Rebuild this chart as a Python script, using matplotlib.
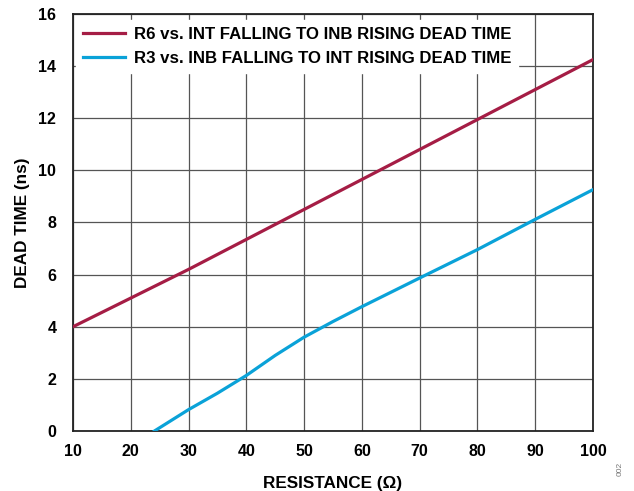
import numpy as np
import matplotlib.pyplot as plt

# Data
r6_res = [10, 20, 30, 40, 50, 60, 70, 80, 90, 100]
r6_dead = [4.0, 5.1, 6.2, 7.35, 8.5, 9.65, 10.8, 11.95, 13.1, 14.25]

r3_res = [24.1, 30, 35, 40, 45, 50, 55, 60, 70, 80, 90, 100]
r3_dead = [0.0, 0.82, 1.45, 2.13, 2.9, 3.6, 4.2, 4.77, 5.87, 6.96, 8.12, 9.26]

x_ticks = [10, 20, 30, 40, 50, 60, 70, 80, 90, 100]
y_ticks = [0, 2, 4, 6, 8, 10, 12, 14, 16]

red = '#A51D45'
blue = '#0AA2D8'

plt.rcParams['font.family'] = ['Liberation Sans', 'DejaVu Sans']
plt.rcParams['font.weight'] = 'bold'

fig = plt.figure(figsize=(6.34, 4.91), dpi=100)
ax = fig.add_axes([0.1151, 0.1222, 0.8202, 0.8493])

ax.plot(r6_res, r6_dead, color=red, lw=2.3, label='R6 vs. INT FALLING TO INB RISING DEAD TIME', zorder=4)
ax.plot(r3_res, r3_dead, color=blue, lw=2.3, label='R3 vs. INB FALLING TO INT RISING DEAD TIME', zorder=4)

ax.set_xlim(10, 100)
ax.set_ylim(0, 16)
ax.set_xticks(x_ticks)
ax.set_yticks(y_ticks)
ax.tick_params(length=0, labelsize=11.5)
ax.tick_params(axis='x', pad=9.5)
ax.tick_params(axis='y', pad=12)
for lab in ax.get_xticklabels() + ax.get_yticklabels():
    lab.set_fontweight('bold')
ax.grid(True, color='#555555', lw=0.9)
ax.set_axisbelow(True)
for sp in ax.spines.values():
    sp.set_linewidth(1.3)
    sp.set_color('#222222')

ax.set_xlabel('RESISTANCE (Ω)', fontsize=12.3, fontweight='bold', labelpad=12)
ax.set_ylabel('DEAD TIME (ns)', fontsize=12.3, fontweight='bold', labelpad=6)

leg = ax.legend(loc='upper left', bbox_to_anchor=(0.006, 0.985), frameon=True, fancybox=False,
                framealpha=1, edgecolor='white', fontsize=12.1, handlelength=2.5,
                handletextpad=0.56, borderaxespad=0, borderpad=0.4, labelspacing=0.53)
for t in leg.get_texts():
    t.set_fontweight('bold')
leg.set_zorder(3)

fig.text(0.978, 0.045, '002', rotation=90, fontsize=6, color='#777777',
         fontweight='normal', ha='center', va='center')

fig.savefig('out.png', dpi=100)
